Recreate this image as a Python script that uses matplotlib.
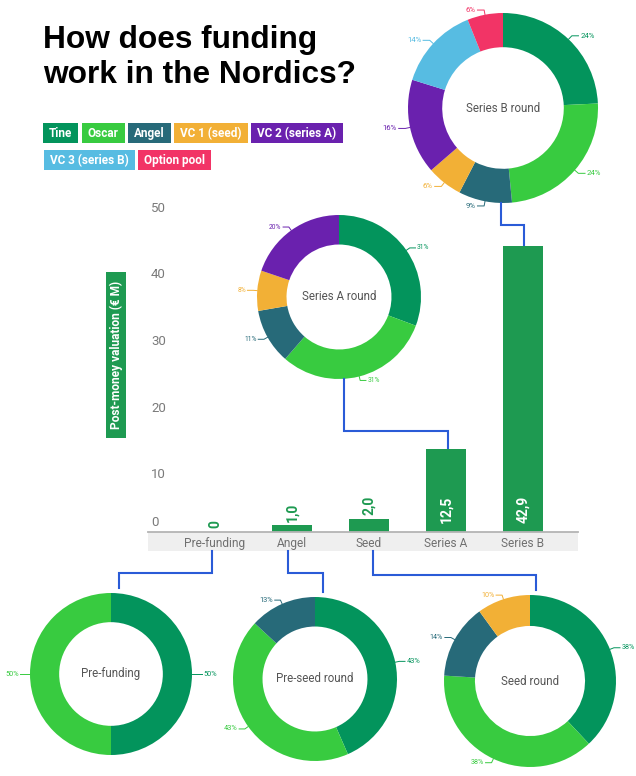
import matplotlib
matplotlib.use('Agg')
import matplotlib.pyplot as plt
from matplotlib.patches import Rectangle
from matplotlib.transforms import blended_transform_factory, ScaledTranslation
import numpy as np

# ---------------- data ----------------
title_lines = ['How does funding', 'work in the Nordics?']
shareholders = ['Tine', 'Oscar', 'Angel', 'VC 1 (seed)', 'VC 2 (series A)',
                'VC 3 (series B)', 'Option pool']
share_colors = ['#03945c', '#38cb40', '#276a79', '#f2b036', '#6a21ae',
                '#57bce2', '#f23466']

categories = ['Pre-funding', 'Angel', 'Seed', 'Series A', 'Series B']
valuations = [0, 1.0, 2.0, 12.5, 42.9]
value_labels = ['0', '1,0', '2,0', '12,5', '42,9']
yticks = [0, 10, 20, 30, 40, 50]
ylabel = 'Post-money valuation (€ M)'

round_titles = ['Pre-funding', 'Pre-seed round', 'Seed round',
                'Series A round', 'Series B round']
prefunding_shares = [50, 50]
preseed_shares = [43, 43, 13]
seed_shares = [38, 38, 14, 10]
seriesA_shares = [31, 31, 11, 8, 20]
seriesB_shares = [24, 24, 9, 6, 16, 14, 6]

# ---------------- style ----------------
W, H, DPI = 636, 776, 100
NARROW = ['Liberation Sans Narrow', 'Roboto', 'DejaVu Sans']
plt.rcParams['font.family'] = NARROW
BAR = '#1e9a51'
LINK = '#2a5bd7'
GRAY_TXT = '#707070'

fig = plt.figure(figsize=(W / DPI, H / DPI), dpi=DPI)
fig.patch.set_facecolor('white')
renderer = fig.canvas.get_renderer()

# overlay axes in pixel coordinates (y downwards)
ov = fig.add_axes([0, 0, 1, 1])
ov.set_xlim(0, W)
ov.set_ylim(H, 0)
ov.axis('off')
ov.set_zorder(3)
ov.patch.set_alpha(0)

# ---------------- title ----------------
for line, base in zip(title_lines, [48, 83]):
    ov.text(43, base, line, fontsize=22.8, fontweight='bold',
            family=['Liberation Sans', 'DejaVu Sans'], color='black',
            va='baseline', ha='left')

# ---------------- legend ----------------
pad = 6.0
x = 43.0
yc = 133
for i, (name, col) in enumerate(zip(shareholders, share_colors)):
    if i == 5:
        x = 44.0
        yc = 160
    t = ov.text(x + pad, yc + 0.5, name, fontsize=8.5, fontweight='bold',
                color='white', va='center', ha='left', zorder=5)
    bb = t.get_window_extent(renderer)
    wbox = bb.width + 2 * pad
    ov.add_patch(Rectangle((x, yc - 10), wbox, 20, facecolor=col,
                           edgecolor='none', zorder=4))
    x += wbox + 3.5

# ---------------- bar chart ----------------
top_px, base_px, left_px, right_px = 198.67, 532.0, 148.0, 578.0
ax = fig.add_axes([left_px / W, 1 - base_px / H, (right_px - left_px) / W,
                   (base_px - top_px) / H])
ax.patch.set_alpha(0)
ax.set_zorder(1)
ax.bar(range(len(categories)), valuations, width=40 / 77, color=BAR, zorder=2)
ax.set_xlim((left_px - 215) / 77, (right_px - 215) / 77)
ax.set_ylim(0, 50)
for s in ['top', 'right', 'left']:
    ax.spines[s].set_visible(False)
ax.spines['bottom'].set_color('#b4b4b4')
ax.spines['bottom'].set_linewidth(1.3)
ax.spines['bottom'].set_zorder(3)
ax.set_yticks([])
ax.set_xticks(range(len(categories)), categories)
ax.tick_params(axis='x', length=0, pad=3.4, labelsize=8.6, labelcolor=GRAY_TXT)

# grey band under the axis
band_h = 19 / (base_px - top_px)
ax.add_patch(Rectangle((0, -band_h), 1, band_h, transform=ax.transAxes,
                       facecolor='#efefef', edgecolor='none', clip_on=False,
                       zorder=0))

# y tick labels (placed like in the original: offset from gridline)
ytr = blended_transform_factory(ax.transAxes, ax.transData)
for v in yticks:
    off = 9 if v == 0 else -9.5
    ax.text(3 / (right_px - left_px), v, str(v), fontsize=9.5, color='#7a7a7a',
            ha='left', va='center',
            transform=ytr + ScaledTranslation(0, off / DPI, fig.dpi_scale_trans))

# value labels
for i, (v, lab) in enumerate(zip(valuations, value_labels)):
    if v > 5:
        ax.text(i, 0, lab, rotation=90, ha='center', va='bottom', color='white',
                fontsize=10, fontweight='bold', zorder=4,
                transform=ax.transData + ScaledTranslation(0, 9 / DPI, fig.dpi_scale_trans))
    else:
        ax.text(i, v, lab, rotation=90, ha='center', va='bottom', color=BAR,
                fontsize=10, fontweight='bold', zorder=4,
                transform=ax.transData + ScaledTranslation(0, 3.5 / DPI, fig.dpi_scale_trans))

# y label box
t = ov.text(116.5, 355, ylabel, rotation=90, ha='center', va='center',
            color='white', fontsize=8.6, fontweight='bold', zorder=5)
bb = t.get_window_extent(renderer)
ov.add_patch(Rectangle((106, 355 - bb.height / 2 - 9), 20, bb.height + 18,
                       facecolor=BAR, edgecolor='none', zorder=4))


def bar_px(i):
    xd, yd = ax.transData.transform((i, valuations[i]))
    return xd, H - yd


# ---------------- donuts ----------------
def draw_donut(cx, cy, r, shares, title, lab_fs):
    m = 1.45
    dax = fig.add_axes([(cx - m * r) / W, 1 - (cy + m * r) / H,
                        2 * m * r / W, 2 * m * r / H])
    dax.set_zorder(2)
    cols = share_colors[:len(shares)]
    dax.pie(shares, colors=cols, startangle=90, counterclock=False, radius=1,
            wedgeprops=dict(width=0.36, edgecolor='none'))
    dax.set_xlim(-m, m)
    dax.set_ylim(-m, m)
    dax.set_aspect('equal')
    dax.axis('off')
    tot = float(sum(shares))
    cum = 0.0
    for v, c in zip(shares, cols):
        th = np.deg2rad(90 - 360 * (cum + v / 2) / tot)
        cum += v
        ux, uy = np.cos(th), np.sin(th)
        sgn = 1 if ux >= 0 else -1
        p0 = (ux * 1.0, uy * 1.0)
        p1 = (ux * 1.05, uy * 1.05)
        p2 = (p1[0] + sgn * 0.07, p1[1])
        dax.plot([p0[0], p1[0], p2[0]], [p0[1], p1[1], p2[1]], color=c,
                 lw=0.7, clip_on=False)
        dax.text(p2[0] + sgn * 0.02, p2[1], f'{v}%', color=c, fontsize=lab_fs,
                 ha='left' if sgn > 0 else 'right', va='center', clip_on=False)
    dax.text(0, 0, title, ha='center', va='center', color='#555555',
             fontsize=8.3)
    return cx, cy, r


donuts = [
    draw_donut(111, 674, 81, prefunding_shares, round_titles[0], 5.3),
    draw_donut(315, 679, 82, preseed_shares, round_titles[1], 5.3),
    draw_donut(530, 681, 86, seed_shares, round_titles[2], 5.1),
    draw_donut(339, 297, 82, seriesA_shares, round_titles[3], 4.8),
    draw_donut(503, 108, 95, seriesB_shares, round_titles[4], 5.6),
]

# ---------------- connectors ----------------
band_bottom = base_px + 19
lw = 1.5
# bottom donuts: bar -> donut below
bar_offsets = [-3, -4, 4]
donut_offsets = [8, 8, 6]
mid_y = [573, 573, 575]
for i in range(3):
    bx, _ = bar_px(i)
    bx += bar_offsets[i]
    cx, cy, r = donuts[i]
    dx = cx + donut_offsets[i]
    ov.plot([bx, bx, dx, dx], [band_bottom, mid_y[i], mid_y[i], cy - r - 5],
            color=LINK, lw=lw, solid_joinstyle='miter')
# Series A / Series B: donut above -> bar top
for j, (di, off, my, xoff) in enumerate([(3, 5, 431, 2), (4, -2, 225, 1)]):
    cx, cy, r = donuts[di]
    bx, by = bar_px(3 + j)
    bx += xoff
    sx = cx + off
    ov.plot([sx, sx, bx, bx], [cy + r, my, my, by - 1],
            color=LINK, lw=lw, solid_joinstyle='miter')

fig.savefig('out.png', dpi=DPI, facecolor='white')
